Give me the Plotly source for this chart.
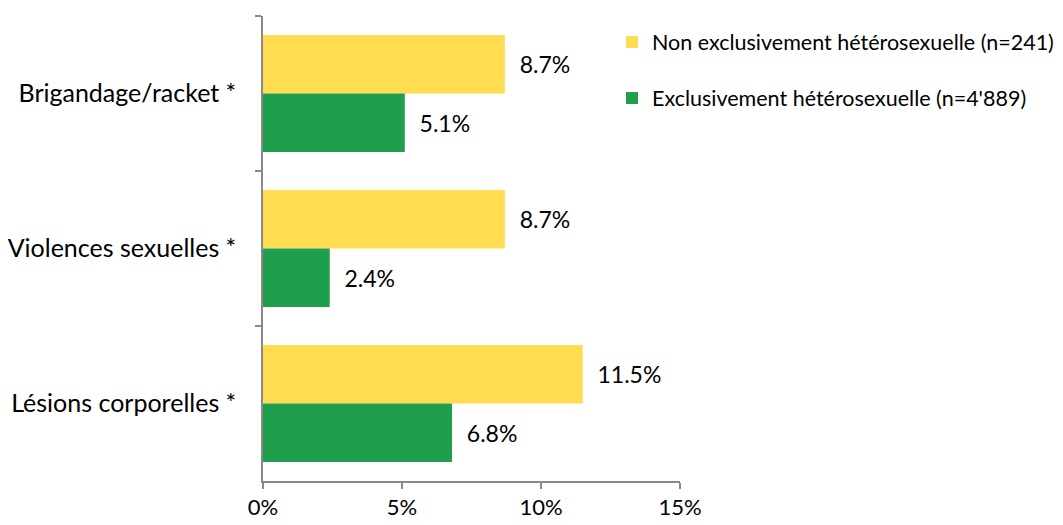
import plotly.graph_objects as go

categories = ["Brigandage/racket *", "Violences sexuelles *", "Lésions corporelles *"]
non_excl = [8.7, 8.7, 11.5]
excl = [5.1, 2.4, 6.8]
series_names = ["Non exclusivement hétérosexuelle (n=241)", "Exclusivement hétérosexuelle (n=4'889)"]
x_ticks = [0, 5, 10, 15]
x_tick_labels = ["0%", "5%", "10%", "15%"]

FONT = "Lato"
YELLOW = "#FFDC50"
GREEN = "#1F9E4B"
AXIS = "#898989"

# the page body adds a small offset; compensate so the picture lands at 1063x525
OFF = 7
W, H = 1063 - OFF, 525 - OFF

fig = go.Figure()
fig.add_trace(go.Bar(
    y=categories, x=non_excl, orientation="h", name=series_names[0],
    marker=dict(color=YELLOW, line=dict(width=0)),
    text=[f"{v:.1f}%" for v in non_excl], texttemplate="  %{text}",
    textposition="outside", textfont=dict(size=23, color="#000000"),
    cliponaxis=False, legend="legend",
))
fig.add_trace(go.Bar(
    y=categories, x=excl, orientation="h", name=series_names[1],
    marker=dict(color=GREEN, line=dict(width=0)),
    text=[f"{v:.1f}%" for v in excl], texttemplate="  %{text}",
    textposition="outside", textfont=dict(size=23, color="#000000"),
    cliponaxis=False, legend="legend2",
))

fig.update_layout(
    width=W, height=H,
    margin=dict(l=262 - OFF, r=W - (679 - OFF), t=15 - OFF, b=H - (480 - OFF), autoexpand=False),
    paper_bgcolor="white", plot_bgcolor="white",
    font=dict(family=FONT, size=22, color="#000000"),
    barmode="group", bargap=0.245, bargroupgap=0,
    xaxis=dict(
        range=[0, 15], tickvals=x_ticks, ticktext=x_tick_labels,
        showgrid=False, zeroline=False, showline=True, linecolor=AXIS, linewidth=1.5,
        ticks="outside", ticklen=6, tickcolor=AXIS, tickwidth=1.5,
        tickfont=dict(size=22), fixedrange=True,
    ),
    yaxis=dict(
        autorange="reversed", showgrid=False, zeroline=False,
        showline=True, linecolor=AXIS, linewidth=1.5,
        ticks="outside", ticklen=6, tickcolor=AXIS, tickwidth=1.5,
        tickson="boundaries", ticklabelstandoff=20,
        tickfont=dict(size=25),
    ),
    showlegend=True,
    legend=dict(x=(611 - OFF) / W, xref="container", y=1 - (41 - OFF) / H, yref="container",
                yanchor="middle", xanchor="left",
                font=dict(size=21.5), bgcolor="rgba(0,0,0,0)", itemwidth=30),
    legend2=dict(x=(611 - OFF) / W, xref="container", y=1 - (97 - OFF) / H, yref="container",
                 yanchor="middle", xanchor="left",
                 font=dict(size=21.5), bgcolor="rgba(0,0,0,0)", itemwidth=30),
)

fig.write_html("out.html")
